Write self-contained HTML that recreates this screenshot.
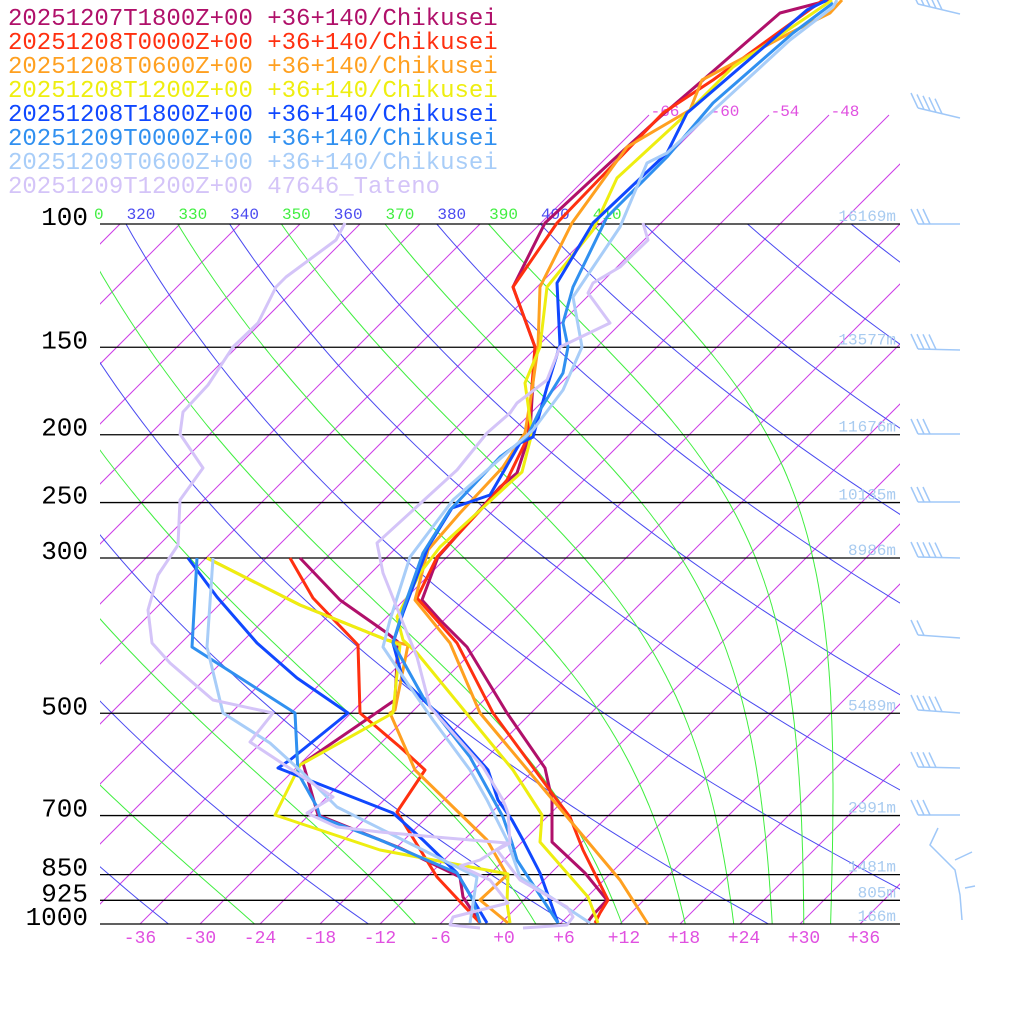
<!DOCTYPE html>
<html><head><meta charset="utf-8"><style>
html,body{margin:0;padding:0;background:#fff;}
svg{display:block;}
text{font-family:"Liberation Mono","DejaVu Sans Mono",monospace;}
</style></head><body>
<svg id="s" width="1024" height="1024" viewBox="0 0 1024 1024" xmlns="http://www.w3.org/2000/svg">
<defs>
<clipPath id="pc"><rect x="100" y="0" width="800" height="924"/></clipPath>
<clipPath id="lc"><rect x="94" y="190" width="810" height="40"/></clipPath>
</defs>
<g id="grid" clip-path="url(#pc)"></g>
<g id="lab"></g>
<g id="snd" fill="none" stroke-width="3" stroke-linejoin="round"></g>
<g id="barbs" stroke="#a0c8f8" stroke-width="1.5" fill="none"></g>
<g font-size="24">
<text x="8" y="25" fill="#b0106a">20251207T1800Z+00 +36+140/Chikusei</text>
<text x="8" y="49" fill="#ff3010">20251208T0000Z+00 +36+140/Chikusei</text>
<text x="8" y="73" fill="#ffa020">20251208T0600Z+00 +36+140/Chikusei</text>
<text x="8" y="97" fill="#eeee10">20251208T1200Z+00 +36+140/Chikusei</text>
<text x="8" y="121" fill="#1048ff">20251208T1800Z+00 +36+140/Chikusei</text>
<text x="8" y="145" fill="#3090f0">20251209T0000Z+00 +36+140/Chikusei</text>
<text x="8" y="169" fill="#a8cdf8">20251209T0600Z+00 +36+140/Chikusei</text>
<text x="8" y="193" fill="#d4c4f8">20251209T1200Z+00 47646_Tateno</text>
</g>
</svg>
<script>
(function(){
var NS="http://www.w3.org/2000/svg";
function el(parent,tag,attrs,txt){var e=document.createElementNS(NS,tag);for(var k in attrs)e.setAttribute(k,attrs[k]);if(txt!=null)e.textContent=txt;parent.appendChild(e);return e;}
function Y(p){return 924-304*Math.log(1000/p);}
function X(T,y){return 500+10*T+(924-y);}
var g=document.getElementById('grid'),lab=document.getElementById('lab');
for(var T=-138;T<=42;T+=6){
  var y0=(T>=-66)?115:224;
  el(g,'line',{x1:X(T,y0),y1:y0,x2:X(T,924),y2:924,stroke:'#cc3ee6','stroke-width':1});
}
function pts(f){var a=[];for(var i=0;i<=60;i++){var p=100*Math.pow(10,i/60);var y=Y(p);a.push(X(f(p),y).toFixed(1)+','+y.toFixed(1));}return a.join(' ');}
for(var th=200;th<=560;th+=20){
  (function(th){el(g,'polyline',{points:pts(function(p){return th*Math.pow(p/1000,0.2857)-273.15;}),fill:'none',stroke:'#4a4af0','stroke-width':1});})(th);
}
function es(Tc){return 6.112*Math.exp(17.67*Tc/(Tc+243.5));}
function dTdlnp(T,p){var e=es(T-273.15);var rs=0.622*e/Math.max(p-e,1);var Lv=2.5e6,Rd=287,cp=1005;
  return (Rd*T+Lv*rs)/(cp+Lv*Lv*rs*0.622/(Rd*T*T));}
for(var th=230;th<=410;th+=20){
  var T=th*Math.pow(0.1,0.2857);var a=[];var N=200;var lp=Math.log(100),dl=(Math.log(1000)-lp)/N;
  for(var i=0;i<=N;i++){var p=Math.exp(lp);var y=Y(p);a.push(X(T-273.15,y).toFixed(1)+','+y.toFixed(1));
    var k1=dTdlnp(T,p);var k2=dTdlnp(T+k1*dl/2,Math.exp(lp+dl/2));T+=k2*dl;lp+=dl;}
  el(g,'polyline',{points:a.join(' '),fill:'none',stroke:'#40ee40','stroke-width':1});
}
var lg=el(lab,'g',{'clip-path':'url(#lc)','font-size':'16'});
for(var th=310;th<=410;th+=10){var Tk=th*Math.pow(0.1,0.2857)-273.15;var x=X(Tk,224)+15;
  el(lg,'text',{x:x,y:219,'text-anchor':'middle',fill:(th%20==0)?'#4a4af0':'#40ee40'},String(th));}
[-66,-60,-54,-48].forEach(function(t){el(lab,'text',{x:X(t,115)+16,y:116,'text-anchor':'middle','font-size':'16',fill:'#e050e0'},String(t));});
var P=[[100,'16169m'],[150,'13577m'],[200,'11676m'],[250,'10135m'],[300,'8986m'],[500,'5489m'],[700,'2991m'],[850,'1481m'],[925,'805m'],[1000,'166m']];
P.forEach(function(q){var y=Y(q[0]);el(lab,'line',{x1:100,y1:y,x2:900,y2:y,stroke:'#000','stroke-width':1.3});
  el(lab,'text',{x:88,y:y+1,'text-anchor':'end','font-size':'26',fill:'#000'},String(q[0]));
  el(lab,'text',{x:896,y:y-3,'text-anchor':'end','font-size':'16',fill:'#a8cbf0'},q[1]);});
for(var t=-36;t<=36;t+=6){el(lab,'text',{x:500+10*t+(t>=0?4:0),y:943,'text-anchor':'middle','font-size':'18',fill:'#e050e0'},(t>=0?'+':'')+t);}
var S=[
['#b0106a',"830,0 780,13 703,80 660,117 613,160 545,223 513,287 535,347 530,433 517,473 500,487 438,557 422,600 440,620 467,647 507,713 545,768 552,800 552,842 585,873 607,900 593,915 587,923"],
['#b0106a',"300,558 340,600 387,633 398,642 395,700 303,763 318,815 400,848 460,877 463,897 480,923"],
['#ff3010',"823,0 713,80 663,113 557,223 513,287 535,347 528,437 507,480 487,503 437,557 417,598 457,643 493,713 557,800 570,817 583,850 608,900 600,913 595,923"],
['#ff3010',"290,558 313,598 358,645 360,713 400,747 425,770 397,812 437,877 480,923"],
['#ffa020',"842,0 830,13 790,33 702,80 690,110 627,147 572,223 540,287 538,347 532,390 525,433 503,467 460,513 428,550 415,600 450,643 480,713 547,793 620,880 648,924"],
['#ffa020',"207,558 300,605 387,640 408,645 395,710 390,713 415,770 487,840 507,875 480,900 508,923"],
['#eeee10',"832,0 813,13 733,67 680,120 617,178 593,230 547,287 540,347 525,383 532,433 522,472 513,480 440,547 420,573 397,617 403,640 417,653 513,770 542,815 540,842 588,897 598,923"],
['#eeee10',"207,558 300,605 387,640 400,645 393,713 300,765 275,815 380,850 508,874 507,903 510,923"],
['#1048ff',"827,0 807,10 687,113 667,153 593,223 557,283 560,345 547,387 533,437 520,443 490,495 452,508 428,547 403,613 393,643 403,680 437,713 488,770 498,800 512,820 523,840 540,873 558,923"],
['#1048ff',"188,558 217,597 257,643 297,678 348,713 290,760 278,768 393,813 423,840 457,873 487,923"],
['#3090f0',"833,3 793,33 713,103 667,157 607,217 573,287 563,323 568,347 563,373 540,410 527,437 500,457 450,510 423,553 403,610 393,643 423,697 470,757 503,817 512,843 517,860 558,923"],
['#3090f0',"197,558 192,647 295,713 298,773 317,807 320,817 380,840 457,873 473,900 480,923"],
['#a8cdf8',"837,0 833,7 790,40 667,153 647,163 620,227 573,297 582,347 563,390 533,430 453,500 410,557 390,620 383,647 410,687 433,720 470,770 487,800 507,840 520,877 590,923"],
['#a8cdf8',"213,558 207,647 223,713 270,743 303,773 337,807 403,840 477,877 470,923"],
['#d4c4f8',"643,223 648,240 620,267 593,283 588,293 610,323 560,347 547,380 517,403 510,413 487,433 457,470 377,543 383,573 403,623 417,657 430,707 483,767 503,800 508,813 510,843 497,850 520,880 567,907 573,917 567,925 523,928"],
['#d4c4f8',"345,223 336,240 286,277 276,287 258,323 233,347 208,385 183,412 180,434 203,468 180,500 178,545 158,575 148,610 152,643 170,663 213,700 273,713 250,742 333,797 307,813 337,827 380,832 447,838 507,843 480,860 460,866 490,880 508,903 453,917 450,925 480,928"]
];
var sg=document.getElementById('snd');
S.forEach(function(s){el(sg,'polyline',{points:s[1],stroke:s[0]});});
var bg=document.getElementById('barbs');
function barb(y,n,tilt){var x0=918,x1=960;el(bg,'line',{x1:x0,y1:y-tilt,x2:x1,y2:y});
  for(var i=0;i<n;i++){var bx=x0+i*6,by=y-tilt+tilt*i*6/42;el(bg,'line',{x1:bx,y1:by,x2:bx-7,y2:by-15});}}
barb(14,5,10);barb(118,5,10);barb(224,3,0);barb(350,4,1);barb(434,3,0);barb(502,3,0);barb(558,5,1);barb(638,2,3);barb(713,5,3);barb(768,4,1);barb(815,3,0);
el(bg,'polyline',{points:'938,828 930,845 955,870 960,895 962,920'});
el(bg,'polyline',{points:'955,860 972,852'});el(bg,'polyline',{points:'965,888 975,886'});
})();
</script>
</body></html>
